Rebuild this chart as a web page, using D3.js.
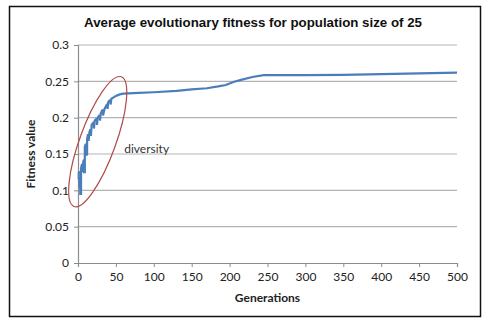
<!DOCTYPE html>
<html>
<head>
<meta charset="utf-8">
<script src="https://cdn.jsdelivr.net/npm/d3@7"></script>
<style>
  body { margin: 0; background: #fff; }
</style>
</head>
<body>
<div id="chart"></div>
<script>
// generations and average fitness
var generations = [0, 1, 1, 2, 2, 3, 3, 4, 4, 5, 6, 6, 7, 8, 8, 9, 9, 10, 11, 11, 12, 12, 13, 14, 14, 15, 16, 17, 17, 18, 20, 21, 21, 22, 24, 25, 25, 26, 28, 29, 29, 30, 32, 33, 33, 35, 38, 39, 39, 40, 42, 43, 43, 44, 47, 50, 55, 60, 80, 100, 130, 150, 170, 185, 195, 205, 215, 230, 245, 300, 350, 400, 450, 500];
var fitness = [0.125, 0.125, 0.115, 0.118, 0.105, 0.105, 0.095, 0.095, 0.13, 0.135, 0.135, 0.125, 0.14, 0.142, 0.125, 0.125, 0.16, 0.163, 0.163, 0.148, 0.15, 0.17, 0.176, 0.176, 0.168, 0.18, 0.183, 0.183, 0.175, 0.19, 0.193, 0.193, 0.185, 0.196, 0.198, 0.198, 0.19, 0.2, 0.203, 0.203, 0.196, 0.206, 0.21, 0.21, 0.203, 0.212, 0.218, 0.218, 0.212, 0.222, 0.224, 0.224, 0.218, 0.226, 0.228, 0.23, 0.232, 0.233, 0.234, 0.235, 0.237, 0.239, 0.2405, 0.243, 0.245, 0.249, 0.252, 0.256, 0.2585, 0.2585, 0.259, 0.26, 0.261, 0.262];

var xTicks = [0, 50, 100, 150, 200, 250, 300, 350, 400, 450, 500];
var yTicks = [0, 0.05, 0.1, 0.15, 0.2, 0.25, 0.3];
var yTickLabels = ["0", "0.05", "0.1", "0.15", "0.2", "0.25", "0.3"];

var svgWidth = 491;
var svgHeight = 332;
var margin = { top: 45, right: 34, bottom: 69, left: 78 };
var width = svgWidth - margin.left - margin.right;
var height = svgHeight - margin.top - margin.bottom;

var svg = d3.select("#chart").append("svg")
    .attr("width", svgWidth)
    .attr("height", svgHeight);

// outer frame
svg.append("rect")
    .attr("x", 9.5).attr("y", 6.5)
    .attr("width", 471).attr("height", 310)
    .attr("fill", "#fff")
    .attr("stroke", "#111")
    .attr("stroke-width", 1.5);

var g = svg.append("g")
    .attr("transform", `translate(${margin.left}, ${margin.top})`);

var x = d3.scaleLinear().domain([0, 500]).range([0, width]);
var y = d3.scaleLinear().domain([0, 0.3]).range([height, 0]);

// gridlines
g.selectAll(".grid")
    .data(yTicks.slice(1))
    .enter()
    .append("line")
    .attr("x1", 0).attr("x2", width)
    .attr("y1", d => y(d)).attr("y2", d => y(d))
    .attr("stroke", "#b3b3b3")
    .attr("stroke-width", 1.2);

var xAxis = d3.axisBottom(x).tickValues(xTicks).tickSize(4).tickPadding(5);
var yAxis = d3.axisLeft(y).tickValues(yTicks).tickSize(4).tickPadding(5)
    .tickFormat((d, i) => yTickLabels[i]);

var xg = g.append("g")
    .attr("transform", `translate(0, ${height})`)
    .call(xAxis);
var yg = g.append("g").call(yAxis);

[xg, yg].forEach(function (a) {
    a.select(".domain").attr("stroke", "#8c8c8c").attr("stroke-width", 1.2);
    a.selectAll(".tick line").attr("stroke", "#8c8c8c");
    a.selectAll("text")
        .attr("font-family", "Lato, 'Open Sans', sans-serif")
        .attr("font-size", "12px")
        .attr("fill", "#222");
});

// series line
var points = generations.map((gen, i) => [gen, fitness[i]]);
var line = d3.line().x(d => x(d[0])).y(d => y(d[1]));
g.append("path")
    .datum(points)
    .attr("d", line)
    .attr("fill", "none")
    .attr("stroke", "#4a7ebb")
    .attr("stroke-width", 2.2);

// annotation ellipse around early generations
var cx = x(26), cy = y(0.167);
g.append("ellipse")
    .attr("cx", cx).attr("cy", cy)
    .attr("rx", 69).attr("ry", 18)
    .attr("transform", `rotate(-70, ${cx}, ${cy})`)
    .attr("fill", "none")
    .attr("stroke", "#b04a4a")
    .attr("stroke-width", 1.2);

g.append("text")
    .attr("x", x(61))
    .attr("y", y(0.152))
    .attr("font-family", "Lato, 'Open Sans', sans-serif")
    .attr("font-size", "12px")
    .attr("fill", "#333")
    .text("diversity");

// title
svg.append("text")
    .attr("x", 253)
    .attr("y", 27)
    .attr("text-anchor", "middle")
    .attr("font-family", "'Liberation Sans', Arial, sans-serif")
    .attr("font-weight", "bold")
    .attr("font-size", "13.3px")
    .attr("fill", "#111")
    .text("Average evolutionary fitness for population size of 25");

// axis labels
svg.append("text")
    .attr("x", margin.left + width / 2)
    .attr("y", 302)
    .attr("text-anchor", "middle")
    .attr("font-family", "Lato, 'Open Sans', sans-serif")
    .attr("font-weight", "bold")
    .attr("font-size", "12px")
    .attr("fill", "#222")
    .text("Generations");

svg.append("text")
    .attr("transform", "translate(35, 154) rotate(-90)")
    .attr("text-anchor", "middle")
    .attr("font-family", "Lato, 'Open Sans', sans-serif")
    .attr("font-weight", "bold")
    .attr("font-size", "12px")
    .attr("fill", "#222")
    .text("Fitness value");
</script>
</body>
</html>
